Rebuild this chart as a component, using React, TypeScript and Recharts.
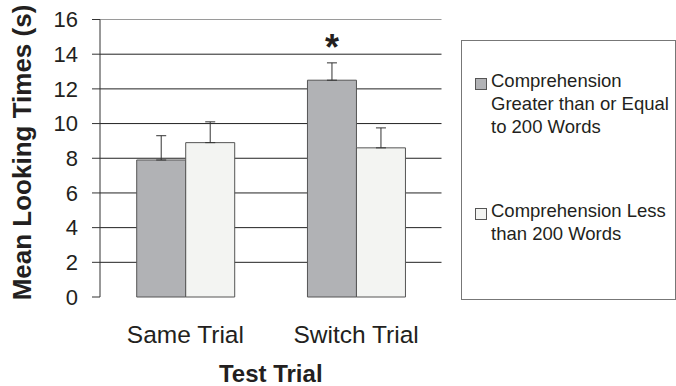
import { Bar, BarChart, CartesianGrid, ErrorBar, LabelList, ReferenceLine, XAxis, YAxis } from 'recharts'

// Mean looking times per test trial, split by comprehension group
const trials = ['Same Trial', 'Switch Trial']
const highComprehension = [7.9, 12.5]
const highComprehensionErr = [1.4, 1.0]
const lowComprehension = [8.9, 8.6]
const lowComprehensionErr = [1.2, 1.15]
const significance = ['', '*']
const yTicks = [0, 2, 4, 6, 8, 10, 12, 14, 16]
const seriesNames = ['Comprehension Greater than or Equal to 200 Words', 'Comprehension Less than 200 Words']
const seriesColors = ['#b1b2b5', '#f3f4f2']

const FONT = "'Liberation Sans', Arial, sans-serif"
const INK = '#231f20'

const data = trials.map((trial, i) => ({
  trial,
  high: highComprehension[i],
  highErr: [0, highComprehensionErr[i]],
  low: lowComprehension[i],
  lowErr: [0, lowComprehensionErr[i]],
  sig: significance[i],
}))

// asterisk sits just above the top of the error bar
const renderSig = (props: any) => {
  const { x, y, width, height, value, index } = props
  if (!value) return null
  const pxPerUnit = height / highComprehension[index]
  const errTop = y - highComprehensionErr[index] * pxPerUnit
  return (
    <text x={x + width / 2} y={errTop - 3} textAnchor='middle' fontSize={36} fontWeight='bold' fontFamily={FONT} fill={INK}>
      {value}
    </text>
  )
}

export default function App() {
  return (
    <div style={{ position: 'absolute', left: 0, top: 0, width: 676, height: 386, background: '#fff', fontFamily: FONT }}>
      <BarChart
        width={676}
        height={386}
        data={data}
        margin={{ top: 19.5, right: 234.5, bottom: 0, left: 0 }}
        barCategoryGap='21.5%'
        barGap={0}
      >
        <CartesianGrid vertical={false} stroke='#222' horizontalValues={[2, 4, 6, 8, 10, 12, 14]} />
        <XAxis
          xAxisId='frame'
          type='number'
          domain={[0, 2]}
          ticks={[0, 1, 2]}
          tick={false}
          tickSize={7}
          height={0}
          stroke='#333'
        />
        <XAxis
          dataKey='trial'
          axisLine={false}
          tickLine={false}
          tickSize={0}
          tickMargin={29}
          height={89}
          tick={{ fontSize: 24.5, fill: INK, fontFamily: FONT }}
          label={{
            content: () => (
              <text x={270.75} y={382} textAnchor='middle' fontSize={24} fontWeight='bold' fontFamily={FONT} fill={INK}>
                Test Trial
              </text>
            ),
          }}
        />
        <YAxis
          domain={[0, 16]}
          ticks={yTicks}
          width={100}
          tickSize={8}
          tickMargin={14}
          stroke='#333'
          tick={{ fontSize: 22, fill: INK, fontFamily: FONT }}
          label={{
            content: () => {
              const cx = 22
              const cy = 152.5
              return (
                <text
                  x={cx}
                  y={cy}
                  transform={`rotate(-90 ${cx} ${cy})`}
                  textAnchor='middle'
                  dominantBaseline='central'
                  fontSize={26}
                  fontWeight='bold'
                  fontFamily={FONT}
                  fill={INK}
                >
                  Mean Looking Times (s)
                </text>
              )
            },
          }}
        />
        <ReferenceLine y={16} stroke='#9a9a9a' />
        <ReferenceLine x={2} xAxisId='frame' stroke='#9a9a9a' />
        <Bar dataKey='high' name={seriesNames[0]} fill={seriesColors[0]} stroke='#555' strokeWidth={1} isAnimationActive={false}>
          <ErrorBar dataKey='highErr' direction='y' width={5} stroke='#333' strokeWidth={1} isAnimationActive={false} />
          <LabelList dataKey='sig' content={renderSig} />
        </Bar>
        <Bar dataKey='low' name={seriesNames[1]} fill={seriesColors[1]} stroke='#555' strokeWidth={1} isAnimationActive={false}>
          <ErrorBar dataKey='lowErr' direction='y' width={5} stroke='#333' strokeWidth={1} isAnimationActive={false} />
        </Bar>
      </BarChart>
      <div
        style={{
          position: 'absolute',
          left: 461,
          top: 40,
          width: 213,
          height: 258,
          border: '1px solid #777',
          color: INK,
          fontSize: 18.5,
          lineHeight: '23px',
        }}
      >
        {seriesNames.map((name, i) => (
          <div key={name} style={{ display: 'flex', alignItems: 'flex-start', marginTop: i === 0 ? 27.5 : 61, paddingLeft: 13 }}>
            <span
              style={{
                flex: 'none',
                width: 10,
                height: 10,
                marginTop: 9,
                marginRight: 4,
                background: seriesColors[i],
                border: '1px solid #555',
              }}
            />
            <span style={{ width: 186 }}>{name}</span>
          </div>
        ))}
      </div>
    </div>
  )
}
